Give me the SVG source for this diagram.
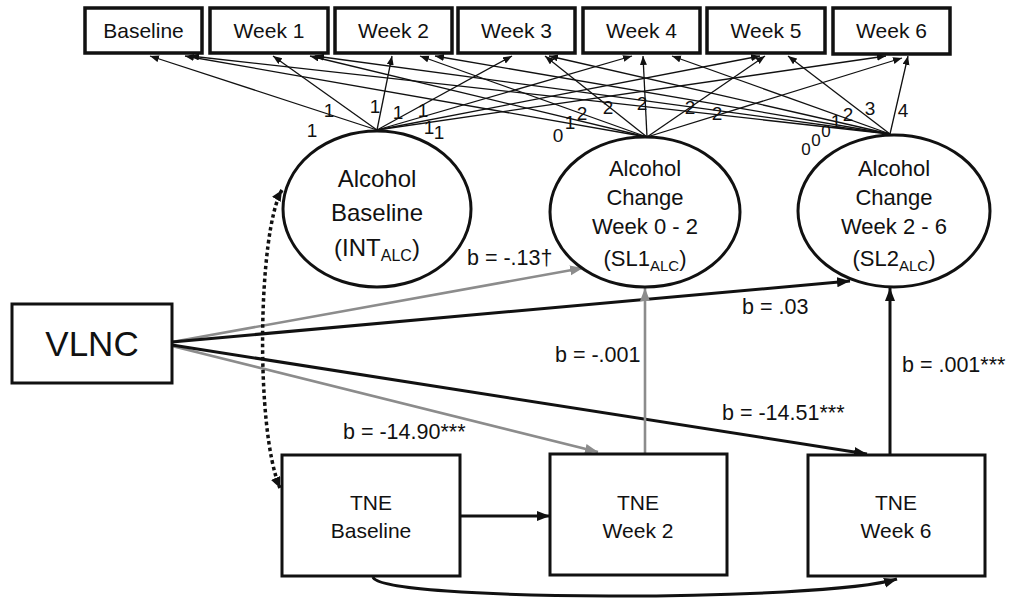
<svg xmlns="http://www.w3.org/2000/svg" width="1027" height="605" viewBox="0 0 1027 605">
<style>
text{font-family:"Liberation Sans",Arial,sans-serif;fill:#111}
.box{fill:#fff;stroke:#111;stroke-width:3}
.tbox{fill:#fff;stroke:#111;stroke-width:3.5}
.ell{fill:#fff;stroke:#111;stroke-width:3}
.wk{font-size:21px;text-anchor:middle}
.et{font-size:22px;text-anchor:middle}
.tn{font-size:21px;text-anchor:middle}
.lab{font-size:21.5px}
.ld{font-size:19px;text-anchor:middle}
.ldz{font-size:17px;text-anchor:middle}
.load{stroke:#111;stroke-width:1.3;fill:none;marker-end:url(#aS)}
.blk{stroke:#111;stroke-width:3;fill:none;marker-end:url(#aB)}
.gry{stroke:#8c8c8c;stroke-width:2.6;fill:none;marker-end:url(#aG)}
</style>
<defs>
<marker id="aS" markerUnits="userSpaceOnUse" markerWidth="10" markerHeight="8" refX="9" refY="3.5" orient="auto"><path d="M0,0 L9,3.5 L0,7 z" fill="#111"/></marker>
<marker id="aB" markerUnits="userSpaceOnUse" markerWidth="14" markerHeight="12" refX="13" refY="5" orient="auto"><path d="M0,0 L13,5 L0,10 z" fill="#111"/></marker>
<marker id="aG" markerUnits="userSpaceOnUse" markerWidth="14" markerHeight="12" refX="13" refY="5" orient="auto"><path d="M0,0 L13,5 L0,10 z" fill="#8c8c8c"/></marker>
<marker id="aD" markerUnits="userSpaceOnUse" markerWidth="14" markerHeight="12" refX="11" refY="5" orient="auto-start-reverse"><path d="M0,0 L11,5 L0,10 z" fill="#111"/></marker>
</defs>
<rect width="1027" height="605" fill="#fff"/>

<g id="connectors">
<line class="load" x1="377" y1="130" x2="150" y2="56"/>
<line class="load" x1="377" y1="130" x2="273" y2="56"/>
<line class="load" x1="377" y1="130" x2="392" y2="56"/>
<line class="load" x1="377" y1="130" x2="512" y2="56"/>
<line class="load" x1="377" y1="130" x2="632" y2="56"/>
<line class="load" x1="377" y1="130" x2="760" y2="56"/>
<line class="load" x1="377" y1="130" x2="886" y2="56"/>
<line class="load" x1="647" y1="137" x2="185" y2="56"/>
<line class="load" x1="647" y1="137" x2="310" y2="56"/>
<line class="load" x1="647" y1="137" x2="420" y2="56"/>
<line class="load" x1="647" y1="137" x2="545" y2="56"/>
<line class="load" x1="647" y1="137" x2="643" y2="56"/>
<line class="load" x1="647" y1="137" x2="765" y2="56"/>
<line class="load" x1="647" y1="137" x2="902" y2="58"/>
<line class="load" x1="890" y1="134" x2="190" y2="56"/>
<line class="load" x1="890" y1="134" x2="315" y2="56"/>
<line class="load" x1="890" y1="134" x2="435" y2="56"/>
<line class="load" x1="890" y1="134" x2="549" y2="56"/>
<line class="load" x1="890" y1="134" x2="672" y2="56"/>
<line class="load" x1="890" y1="134" x2="788" y2="56"/>
<line class="load" x1="890" y1="134" x2="908" y2="56"/>

<line class="gry" x1="172" y1="342" x2="583" y2="268"/>
<line class="blk" x1="172" y1="342" x2="850" y2="281"/>
<line class="gry" x1="172" y1="346" x2="598" y2="452"/>
<line class="blk" x1="172" y1="345" x2="867" y2="454"/>
<line class="gry" x1="645" y1="454" x2="645" y2="288"/>
<line class="blk" x1="890" y1="455" x2="890" y2="288"/>
<line class="blk" x1="460" y1="516" x2="550" y2="516"/>
<path class="blk" d="M373,577 C380,602 820,602 897,579"/>
<path d="M282,190 C258,230 255,430 280,488" fill="none" stroke="#111" stroke-width="3.5" stroke-dasharray="3.5 3" marker-start="url(#aD)" marker-end="url(#aD)"/>
</g>

<g id="node-baseline"><rect class="tbox" x="85" y="8" width="117" height="45"/><text class="wk" x="143.5" y="38">Baseline</text></g>
<g id="node-week1"><rect class="tbox" x="210" y="8" width="118" height="45"/><text class="wk" x="269" y="38">Week 1</text></g>
<g id="node-week2"><rect class="tbox" x="335" y="8" width="117" height="45"/><text class="wk" x="393.5" y="38">Week 2</text></g>
<g id="node-week3"><rect class="tbox" x="458" y="8" width="117" height="45"/><text class="wk" x="516.5" y="38">Week 3</text></g>
<g id="node-week4"><rect class="tbox" x="583" y="8" width="117" height="45"/><text class="wk" x="641.5" y="38">Week 4</text></g>
<g id="node-week5"><rect class="tbox" x="707" y="8" width="118" height="45"/><text class="wk" x="766" y="38">Week 5</text></g>
<g id="node-week6"><rect class="tbox" x="833" y="8" width="117" height="46"/><text class="wk" x="891.5" y="38">Week 6</text></g>

<g id="node-int">
<ellipse class="ell" cx="377" cy="209" rx="94" ry="78"/>
<text class="et" x="377" y="187" style="font-size:24px">Alcohol</text>
<text class="et" x="377" y="221" style="font-size:24px">Baseline</text>
<text class="et" x="377" y="256" style="font-size:24px">(INT<tspan font-size="16" dy="5">ALC</tspan><tspan dy="-5">)</tspan></text>
</g>
<g id="node-sl1">
<ellipse class="ell" cx="645" cy="212" rx="95" ry="75"/>
<text class="et" x="645" y="176">Alcohol</text>
<text class="et" x="645" y="205">Change</text>
<text class="et" x="645" y="234">Week 0 - 2</text>
<text class="et" x="645" y="266">(SL1<tspan font-size="15" dy="5">ALC</tspan><tspan dy="-5">)</tspan></text>
</g>
<g id="node-sl2">
<ellipse class="ell" cx="894" cy="211" rx="96" ry="76"/>
<text class="et" x="894" y="176">Alcohol</text>
<text class="et" x="894" y="205">Change</text>
<text class="et" x="894" y="234">Week 2 - 6</text>
<text class="et" x="894" y="266">(SL2<tspan font-size="15" dy="5">ALC</tspan><tspan dy="-5">)</tspan></text>
</g>

<g id="node-vlnc"><rect class="box" x="12" y="304" width="160" height="79"/><text x="92" y="356" style="font-size:35px;text-anchor:middle">VLNC</text></g>
<g id="node-tne0"><rect class="box" x="282" y="455" width="178" height="121"/><text class="tn" x="371" y="510">TNE</text><text class="tn" x="371" y="538">Baseline</text></g>
<g id="node-tne2"><rect class="box" x="550" y="454" width="177" height="121"/><text class="tn" x="638" y="510">TNE</text><text class="tn" x="638" y="538">Week 2</text></g>
<g id="node-tne6"><rect class="box" x="808" y="455" width="177" height="121"/><text class="tn" x="896" y="510">TNE</text><text class="tn" x="896" y="538">Week 6</text></g>

<g id="loading-labels">
<text class="ld" x="312" y="137">1</text>
<text class="ld" x="329" y="117">1</text>
<text class="ld" x="375" y="113">1</text>
<text class="ld" x="398" y="119">1</text>
<text class="ld" x="423" y="117">1</text>
<text class="ld" x="429" y="134">1</text>
<text class="ld" x="439" y="139">1</text>
<text class="ld" x="558" y="142">0</text>
<text class="ld" x="570" y="129">1</text>
<text class="ld" x="582" y="120">2</text>
<text class="ld" x="608" y="114">2</text>
<text class="ld" x="642" y="110">2</text>
<text class="ld" x="690" y="114">2</text>
<text class="ld" x="717" y="120">2</text>
<text class="ldz" x="806" y="155">0</text>
<text class="ldz" x="816" y="146">0</text>
<text class="ldz" x="826" y="137">0</text>
<text class="ld" x="836" y="128">1</text>
<text class="ld" x="848" y="121">2</text>
<text class="ld" x="870" y="115">3</text>
<text class="ld" x="903" y="117">4</text>
</g>

<g id="path-labels">
<text class="lab" x="467" y="265">b = -.13†</text>
<text class="lab" x="742" y="314">b = .03</text>
<text class="lab" x="555" y="362">b = -.001</text>
<text class="lab" x="902" y="372">b = .001***</text>
<text class="lab" x="722" y="420">b = -14.51***</text>
<text class="lab" x="343" y="439">b = -14.90***</text>
</g>
</svg>
